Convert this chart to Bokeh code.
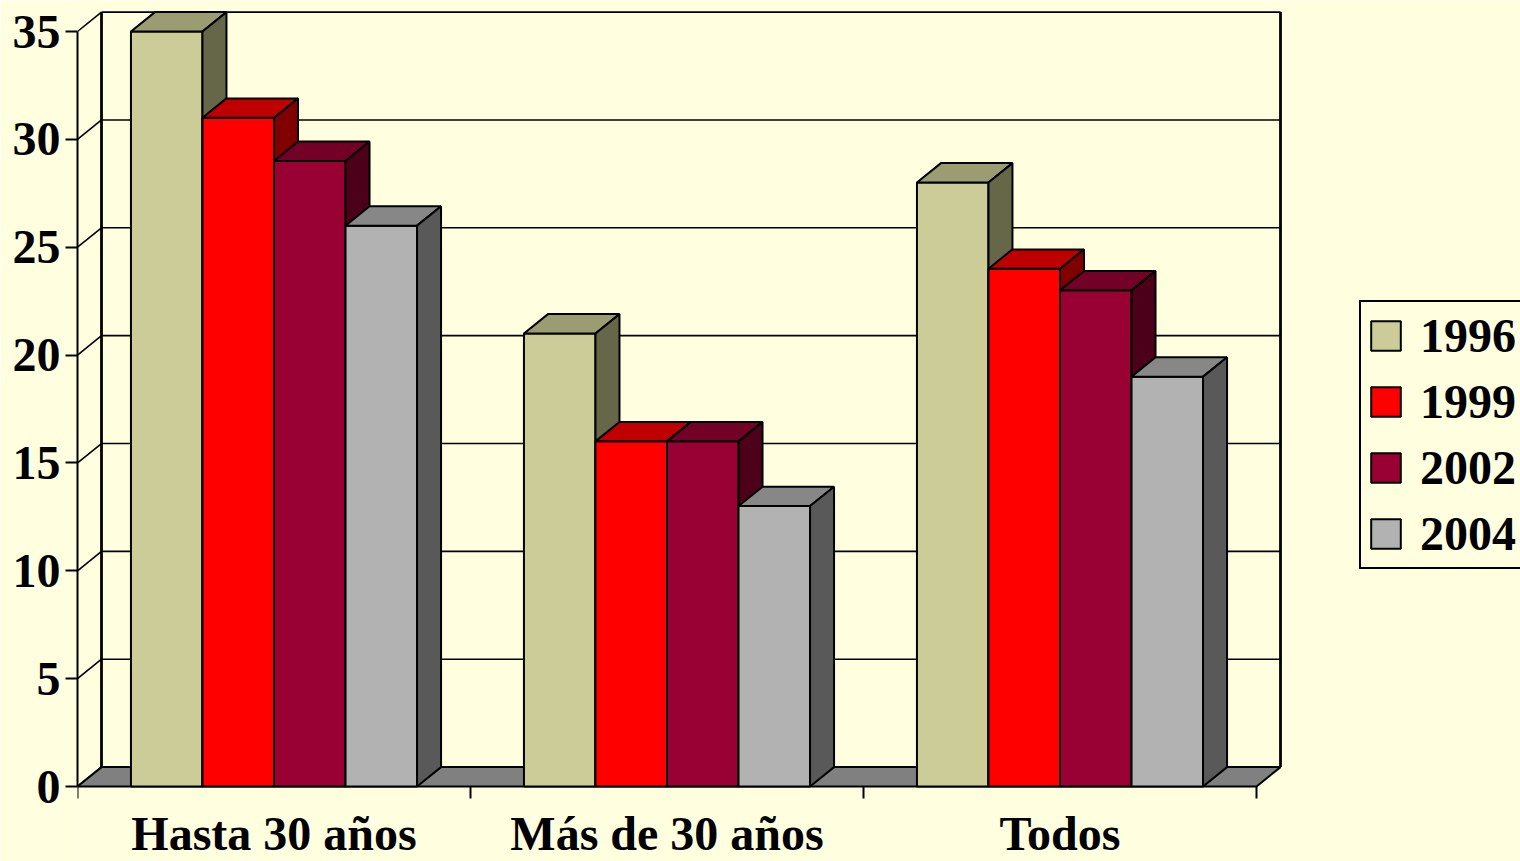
from bokeh.plotting import figure
from bokeh.models import Range1d, FixedTicker
from bokeh.core.properties import value
from bokeh.embed import file_html
from bokeh.resources import INLINE

# ---- data -------------------------------------------------------------
categories = ["Hasta 30 años", "Más de 30 años", "Todos"]
years = ["1996", "1999", "2002", "2004"]
v1996 = [35, 21, 28]
v1999 = [31, 16, 24]
v2002 = [29, 16, 23]
v2004 = [26, 13, 19]
y_ticks = [0, 5, 10, 15, 20, 25, 30, 35]

series = [v1996, v1999, v2002, v2004]

# ---- styles -----------------------------------------------------------
front_colors = ["#CCCC99", "#FF0000", "#990033", "#B2B2B2"]
top_colors = ["#9C9C72", "#BF0000", "#730026", "#878787"]
side_colors = ["#666648", "#800000", "#4D001A", "#595959"]
BG = "#FFFFE0"
FONT = "Liberation Serif"

W, H = 1520, 861
LEFT = 77
PX_PER_CAT = 393.0
PX_PER_UNIT = 755.0 / 35.0
ZERO_FROM_BOTTOM = 75
ddx = 24.0 / PX_PER_CAT
ddy = 19.4 / PX_PER_UNIT
bar_w = 0.182
gap = (1 - 4 * bar_w) / 2
n = len(categories)
ymax = y_ticks[-1]

p = figure(width=W, height=H, output_backend="svg", toolbar_location=None,
           x_range=Range1d(0, (W - LEFT) / PX_PER_CAT),
           y_range=Range1d(-ZERO_FROM_BOTTOM / PX_PER_UNIT, (H - ZERO_FROM_BOTTOM) / PX_PER_UNIT),
           x_axis_type=None,
           min_border=0, min_border_left=LEFT,
           background_fill_color=BG, border_fill_color=BG,
           outline_line_color=None)
p.grid.visible = False

ax = p.yaxis[0]
ax.ticker = FixedTicker(ticks=y_ticks)
ax.bounds = (y_ticks[0], ymax)
ax.axis_line_width = 2
ax.major_tick_line_width = 2
ax.major_tick_out = 12
ax.major_tick_in = 0
ax.minor_tick_line_color = None
ax.major_label_text_font = FONT
ax.major_label_text_font_style = "bold"
ax.major_label_text_font_size = "48px"
ax.major_label_text_color = "black"
ax.major_label_standoff = 5

# ---- back wall and left wall ----------------------------------------
p.segment(x0=[ddx] * len(y_ticks), y0=[t + ddy for t in y_ticks],
          x1=[n + ddx] * len(y_ticks), y1=[t + ddy for t in y_ticks],
          line_color="black", line_width=1.6)
p.segment(x0=[0] * len(y_ticks), y0=y_ticks,
          x1=[ddx] * len(y_ticks), y1=[t + ddy for t in y_ticks],
          line_color="black", line_width=1.6)
p.segment(x0=[ddx, n + ddx], y0=[ddy, ddy], x1=[ddx, n + ddx], y1=[ymax + ddy, ymax + ddy],
          line_color="black", line_width=2.8)

# ---- floor ------------------------------------------------------------
p.patch([0, n, n + ddx, ddx], [0, 0, ddy, ddy], fill_color="#808080",
        line_color="black", line_width=2)
p.segment(x0=list(range(n + 1)), y0=[0] * (n + 1), x1=list(range(n + 1)),
          y1=[-12 / PX_PER_UNIT] * (n + 1), line_color="black", line_width=2)

# ---- bars -------------------------------------------------------------
for j, vals in enumerate(series):
    xl = [i + gap + j * bar_w for i in range(n)]
    xr = [x + bar_w for x in xl]
    p.quad(left=xl, right=xr, bottom=[0] * n, top=vals,
           fill_color=front_colors[j], line_color="black", line_width=2,
           legend_label=years[j])
    p.patches(xs=[[l, r, r + ddx, l + ddx] for l, r in zip(xl, xr)],
              ys=[[v, v, v + ddy, v + ddy] for v in vals],
              fill_color=top_colors[j], line_color="black", line_width=2)
    p.patches(xs=[[r, r + ddx, r + ddx, r] for r in xr],
              ys=[[0, ddy, v + ddy, v] for v in vals],
              fill_color=side_colors[j], line_color="black", line_width=2)

# ---- category labels --------------------------------------------------
p.text(x=[i + 0.5 for i in range(n)], y=[-47 / PX_PER_UNIT] * n, text=categories,
       text_align="center", text_baseline="alphabetic",
       text_font=value(FONT), text_font_style="bold", text_font_size="48px",
       text_color="black")

# ---- legend -----------------------------------------------------------
lg = p.legend[0]
lg.location = (1282, 292)
lg.margin = 0
lg.padding = 6
lg.spacing = 11
lg.glyph_width = 37
lg.glyph_height = 37
lg.label_height = 52
lg.label_standoff = 16
lg.label_text_font = FONT
lg.label_text_font_style = "bold"
lg.label_text_font_size = "48px"
lg.label_text_color = "black"
lg.border_line_color = "black"
lg.border_line_width = 2
lg.border_line_alpha = 1
lg.background_fill_color = BG
lg.background_fill_alpha = 1

open("out.html", "w").write(file_html(p, INLINE))
